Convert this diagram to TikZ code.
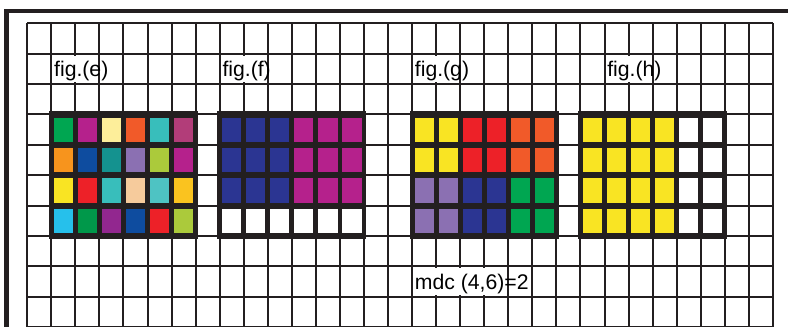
\documentclass[tikz,border=0pt]{standalone}
\usepackage{fontspec}
\setmainfont{Liberation Sans}
\definecolor{ink}{HTML}{231F20}
\definecolor{cGreen}{HTML}{00A651}
\definecolor{cMagenta}{HTML}{B5218C}
\definecolor{cCream}{HTML}{FDEE9A}
\definecolor{cOrange}{HTML}{F15A29}
\definecolor{cTurq}{HTML}{38BEBB}
\definecolor{cRose}{HTML}{B23D79}
\definecolor{cAmber}{HTML}{F7941D}
\definecolor{cBlue}{HTML}{0E4C9F}
\definecolor{cTeal}{HTML}{14928F}
\definecolor{cLavender}{HTML}{8B70B2}
\definecolor{cLime}{HTML}{ABCA3B}
\definecolor{cYellow}{HTML}{F9E423}
\definecolor{cRed}{HTML}{ED2128}
\definecolor{cPeach}{HTML}{F6CB9C}
\definecolor{cAqua}{HTML}{4EC3C3}
\definecolor{cGold}{HTML}{FAC31F}
\definecolor{cSky}{HTML}{26C0EB}
\definecolor{cForest}{HTML}{00984A}
\definecolor{cPurple}{HTML}{92278F}
\definecolor{cNavy}{HTML}{2B3592}
\begin{document}
\begin{tikzpicture}[x=12.025pt, y=-15.2pt,
    gridline/.style={ink, line width=1pt},
    figlabel/.style={anchor=base west, inner sep=0pt, font=\fontsize{10.6}{12}\selectfont}]
                \useasboundingbox (-1.135,-0.766) rectangle (31.63,9.99);

                % Background grid
                \foreach \i in {0,...,31} \draw[gridline] (\i,0) -- (\i,10.3);
                \foreach \j in {0,...,10} \draw[gridline] (0,\j) -- (31,\j);

                % Outer border (left and top)
                \draw[ink, line width=2.25pt] (-0.857,10.3) -- (-0.857,-0.398) -- (32,-0.398);

                % The four 6x4 figures: frame, then one inset square per cell
                \foreach \fx/\cells in {
                    1/{cGreen,cMagenta,cCream,cOrange,cTurq,cRose,
                       cAmber,cBlue,cTeal,cLavender,cLime,cMagenta,
                       cYellow,cRed,cTurq,cPeach,cAqua,cGold,
                       cSky,cForest,cPurple,cBlue,cRed,cLime},
                    8/{cNavy,cNavy,cNavy,cMagenta,cMagenta,cMagenta,
                       cNavy,cNavy,cNavy,cMagenta,cMagenta,cMagenta,
                       cNavy,cNavy,cNavy,cMagenta,cMagenta,cMagenta,
                       white,white,white,white,white,white},
                    16/{cYellow,cYellow,cRed,cRed,cOrange,cOrange,
                        cYellow,cYellow,cRed,cRed,cOrange,cOrange,
                        cLavender,cLavender,cNavy,cNavy,cGreen,cGreen,
                        cLavender,cLavender,cNavy,cNavy,cGreen,cGreen},
                    23/{cYellow,cYellow,cYellow,cYellow,white,white,
                        cYellow,cYellow,cYellow,cYellow,white,white,
                        cYellow,cYellow,cYellow,cYellow,white,white,
                        cYellow,cYellow,cYellow,cYellow,white,white}} {
                    \fill[ink] (\fx-0.1,2.9) rectangle (\fx+6.1,7.1);
                    \foreach \clr [count=\k from 0] in \cells {
                        \pgfmathtruncatemacro\cx{mod(\k,6)}
                        \pgfmathtruncatemacro\cy{int(\k/6)}
                        \fill[\clr] (\fx+\cx+0.1,3+\cy+0.1) rectangle ++(0.8,0.8);
                    }
                }

                % Labels (white patch hides the grid line behind them)
                \foreach \lx in {1,8,16,24} \fill[white] (\lx+0.05,1.06) rectangle (\lx+1.95,1.94);
                \fill[white] (16.05,8.06) rectangle (19.95,8.94);
                \node[figlabel] (labE) at (1.1,1.75) {fig.(e)};
                \node[figlabel] (labF) at (8.1,1.75) {fig.(f)};
                \node[figlabel] (labG) at (16.1,1.75) {fig.(g)};
                \node[figlabel] (labH) at (24.1,1.75) {fig.(h)};
                \node[figlabel] (mdc) at (16.1,8.75) {mdc (4,6)=2};
            \end{tikzpicture}
\end{document}
